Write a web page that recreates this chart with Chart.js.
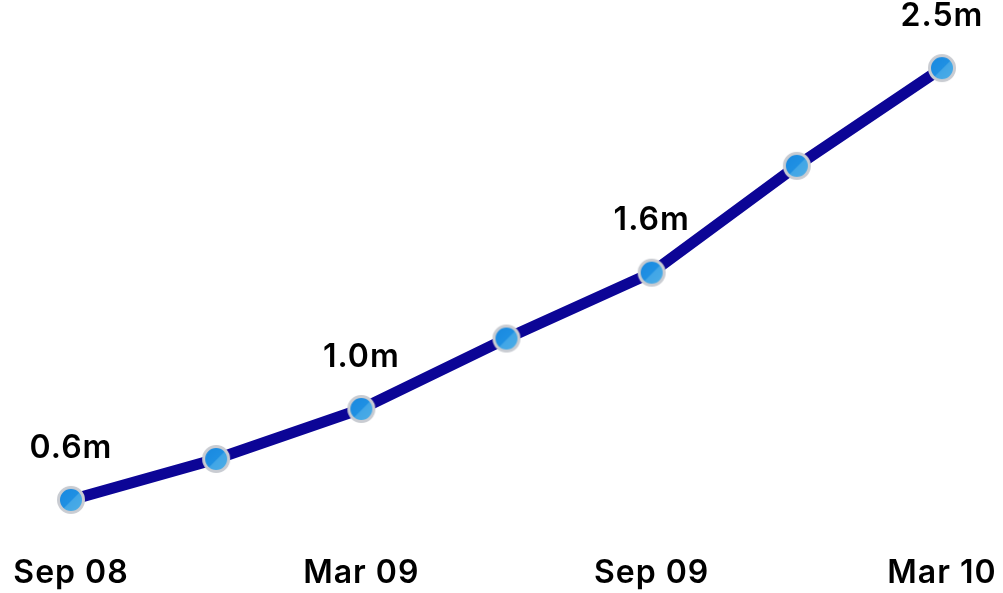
<!DOCTYPE html>
<html lang="en">
<head>
    <meta charset="UTF-8">
    <title>Growth</title>
    <style>
        body { margin: 0; background: #fff; }
        .wrap { width: 1003px; height: 593px; position: relative; }
    </style>
</head>
<body>
    <div class="wrap">
        <canvas id="myChart"></canvas>
    </div>

    <script src="https://cdn.jsdelivr.net/npm/chart.js"></script>

    <script>
    // quarterly figures, in millions
    const quarters = ["Sep 08", "Dec 08", "Mar 09", "Jun 09", "Sep 09", "Dec 09", "Mar 10"];
    const values = [0.6, 0.78, 1.0, 1.31, 1.6, 2.07, 2.5];
    // which points get a value label
    const labelled = [0, 2, 4, 6];

    const FONT = "Inter, sans-serif";

    // round blue marker with grey ring
    function makeDot() {
        const c = document.createElement('canvas');
        c.width = 30; c.height = 30;
        const g = c.getContext('2d');
        const grad = g.createLinearGradient(6, 6, 24, 24);
        grad.addColorStop(0, '#1a8ae0');
        grad.addColorStop(0.5, '#1f90e3');
        grad.addColorStop(0.56, '#42a6e6');
        grad.addColorStop(1, '#4aace6');
        g.beginPath();
        g.arc(15, 15, 12.5, 0, Math.PI * 2);
        g.fillStyle = grad;
        g.fill();
        g.lineWidth = 3;
        g.strokeStyle = '#c9ccd2';
        g.stroke();
        return c;
    }

    // slightly looser text everywhere
    const spacing = {
        id: 'spacing',
        beforeDraw(chart) { chart.ctx.letterSpacing = '1px'; }
    };

    // value labels above selected points
    const valueLabels = {
        id: 'valueLabels',
        afterDatasetsDraw(chart) {
            const ctx = chart.ctx;
            const pts = chart.getDatasetMeta(0).data;
            ctx.save();
            ctx.letterSpacing = '1px';
            ctx.font = "600 32px " + FONT;
            ctx.fillStyle = '#000';
            ctx.textAlign = 'center';
            ctx.textBaseline = 'middle';
            labelled.forEach(i => {
                ctx.fillText(values[i].toFixed(1) + 'm', pts[i].x, pts[i].y - 52);
            });
            ctx.restore();
        }
    };

    new Chart(document.getElementById('myChart'), {
        type: 'line',
        data: {
            labels: quarters,
            datasets: [{
                data: values,
                borderColor: '#0c0596',
                borderWidth: 11,
                tension: 0,
                pointStyle: makeDot(),
                pointRadius: 13,
                pointHoverRadius: 13
            }]
        },
        options: {
            responsive: true,
            maintainAspectRatio: false,
            animation: false,
            layout: { padding: { left: 71, right: 61, top: 34, bottom: 0 } },
            plugins: {
                legend: { display: false },
                tooltip: { enabled: false }
            },
            scales: {
                x: {
                    offset: false,
                    grid: { display: false, drawTicks: false },
                    border: { display: false },
                    afterFit: (s) => {
                        s.height = 59;
                        s.paddingLeft = 0;
                        s.paddingRight = 0;
                    },
                    ticks: {
                        autoSkip: false,
                        maxRotation: 0,
                        padding: 20,
                        color: '#000',
                        font: { family: FONT, size: 32, weight: '600' },
                        callback: (v, i) => i % 2 === 0 ? quarters[i] : ''
                    }
                },
                y: {
                    display: false,
                    min: 0.45,
                    max: 2.65
                }
            }
        },
        plugins: [spacing, valueLabels]
    });
    </script>
</body>
</html>
